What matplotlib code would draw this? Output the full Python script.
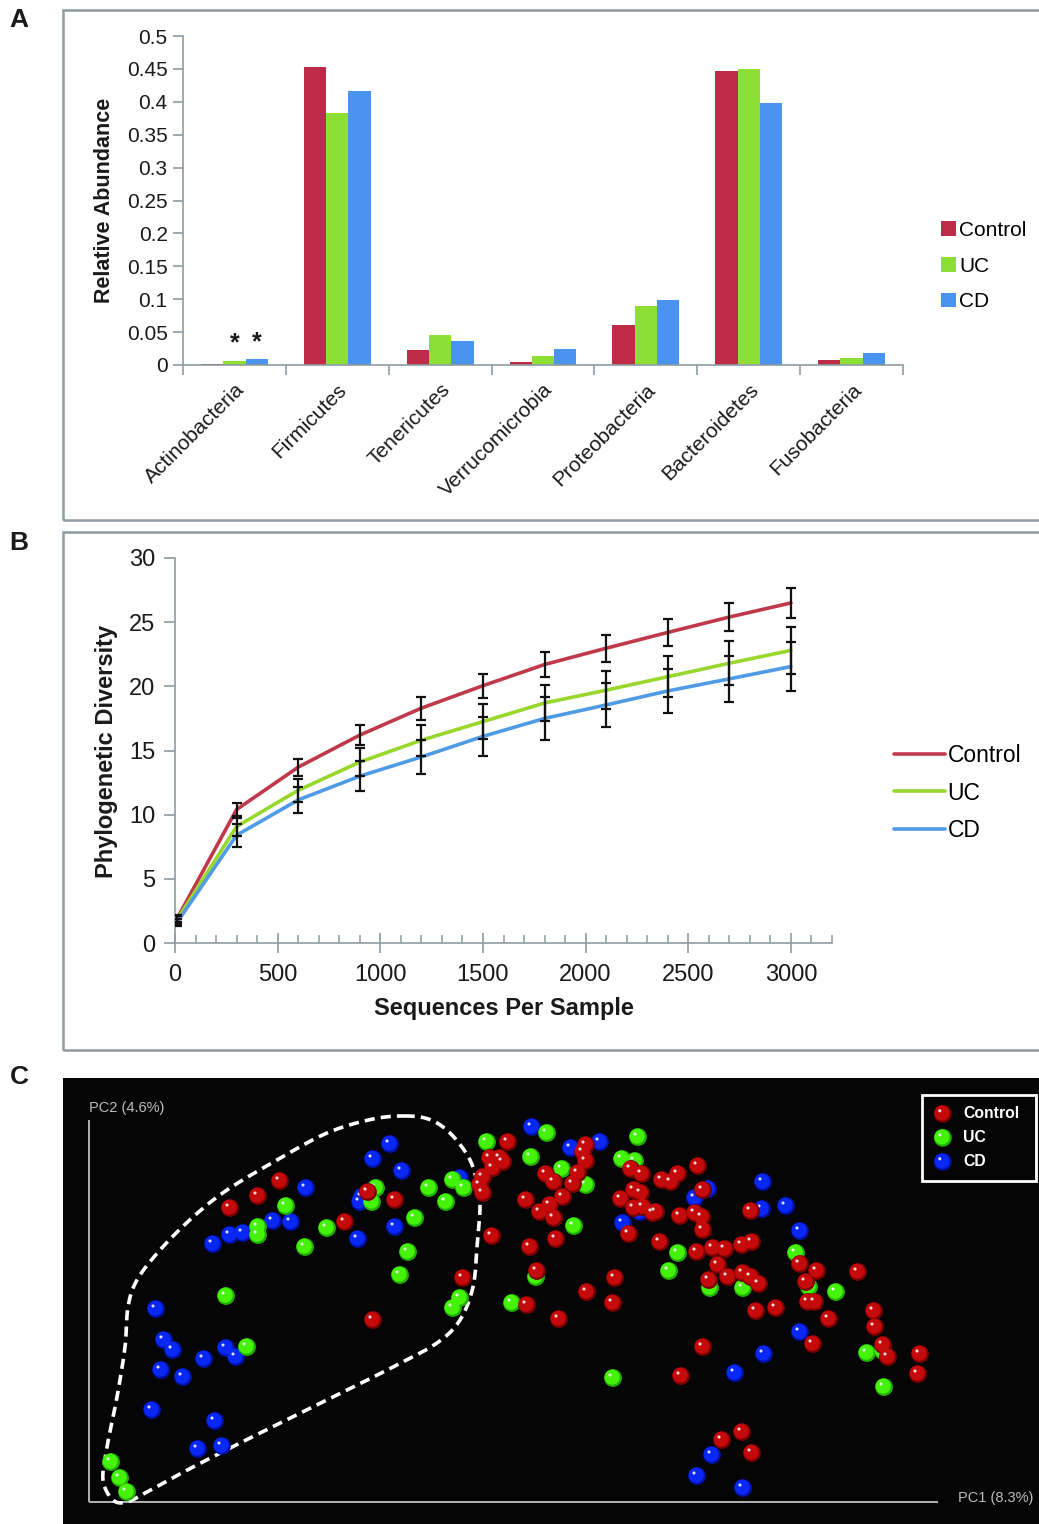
import numpy as np
import matplotlib
matplotlib.use('Agg')
import matplotlib.pyplot as plt
from matplotlib.patches import Rectangle
from matplotlib.ticker import FixedLocator, MultipleLocator, FuncFormatter, NullFormatter

plt.rcParams['font.family'] = ['Liberation Sans', 'DejaVu Sans']

W, H = 1039, 1524

# ---------------- Panel A data ----------------
phyla = ['Actinobacteria', 'Firmicutes', 'Tenericutes', 'Verrucomicrobia',
         'Proteobacteria', 'Bacteroidetes', 'Fusobacteria']
groups = ['Control', 'UC', 'CD']
abund_control = [0.002, 0.453, 0.023, 0.005, 0.061, 0.447, 0.008]
abund_uc = [0.006, 0.383, 0.045, 0.014, 0.089, 0.450, 0.011]
abund_cd = [0.009, 0.417, 0.036, 0.024, 0.099, 0.398, 0.018]
star_marks = [('Actinobacteria', 'UC'), ('Actinobacteria', 'CD')]
a_yticks = [0, 0.05, 0.1, 0.15, 0.2, 0.25, 0.3, 0.35, 0.4, 0.45, 0.5]

# ---------------- Panel B data ----------------
seq_depth = [10, 300, 600, 900, 1200, 1500, 1800, 2100, 2400, 2700, 3000]
pd_control = [1.9, 10.4, 13.7, 16.2, 18.3, 20.05, 21.7, 22.97, 24.2, 25.4, 26.5]
pd_control_err = [0.3, 0.5, 0.65, 0.8, 0.9, 0.95, 0.95, 1.04, 1.04, 1.1, 1.15]
pd_uc = [1.8, 9.07, 11.9, 14.1, 15.8, 17.25, 18.7, 19.7, 20.75, 21.8, 22.8]
pd_uc_err = [0.3, 0.7, 0.9, 1.1, 1.22, 1.38, 1.4, 1.5, 1.6, 1.7, 1.8]
pd_cd = [1.6, 8.4, 11.15, 13.0, 14.5, 16.1, 17.5, 18.55, 19.64, 20.58, 21.54]
pd_cd_err = [0.3, 0.9, 1.04, 1.17, 1.3, 1.5, 1.69, 1.7, 1.74, 1.77, 1.9]
b_xticks = [0, 500, 1000, 1500, 2000, 2500, 3000]
b_yticks = [0, 5, 10, 15, 20, 25, 30]

# ---------------- Panel C data (PCoA scores, plot units) ----------------
ctrl_pc1 = [191, 169, 141, 279, 306, 256, 374, 284,
            419, 401, 411, 414, 404, 394, 391, 394, 497, 494, 497, 489, 457, 465, 484, 474,
            437, 461, 451, 465, 403, 441, 467, 542, 553, 532, 545, 552, 545, 554, 567, 564,
            540, 573, 589, 582, 609, 591, 606, 613, 614, 571, 608, 624, 636, 629, 639, 620,
            448, 526, 498, 438, 524, 470, 614, 592,
            614, 662, 653, 663, 654, 662, 670, 667, 687, 711, 728, 717, 719, 726, 769, 740,
            724, 785, 786, 794, 799, 831, 829, 653, 633, 663]
ctrl_pc2 = [321, 306, 294, 310, 302, 280, 224, 182,
            360, 344, 344, 340, 334, 325, 317, 309, 357, 350, 341, 329, 328, 320, 318, 305,
            302, 297, 290, 284, 266, 255, 263, 333, 328, 303, 312, 309, 294, 295, 290, 289,
            268, 322, 328, 320, 336, 286, 289, 285, 272, 260, 250, 254, 253, 237, 225, 222,
            231, 224, 210, 197, 199, 183, 155, 126,
            312, 291, 257, 260, 229, 225, 218, 191, 194, 238, 231, 220, 200, 200, 230, 183,
            158, 191, 175, 157, 145, 148, 128, 70, 62, 49]
uc_pc1 = [197, 287, 283, 340, 364, 375, 357, 326, 238, 169, 169, 216, 319, 311, 137, 158,
          371, 364, 22, 31, 38,
          398, 458, 442, 473, 497, 549, 533, 546, 485, 589, 580, 447, 423, 621, 524,
          654, 707, 720, 747, 778, 794, 795]
uc_pc2 = [296, 314, 300, 314, 322, 314, 300, 284, 274, 275, 267, 255, 250, 227, 206, 155,
          204, 194, 40, 24, 10,
          360, 369, 345, 333, 317, 365, 343, 341, 276, 249, 231, 225, 199, 214, 124,
          214, 249, 215, 210, 149, 151, 115]
cd_pc1 = [301, 284, 313, 217, 371, 273, 271, 184, 202, 141, 154, 124, 269, 306, 67, 75,
          84, 72, 94, 115, 137, 147, 63, 126, 109, 133,
          443, 482, 511, 606, 619, 534, 551, 646,
          674, 673, 697, 711, 711, 675, 623, 608, 654]
cd_pc2 = [358, 343, 331, 314, 324, 305, 300, 281, 280, 267, 269, 258, 263, 275, 193, 162,
          152, 132, 125, 143, 154, 145, 92, 81, 53, 56,
          375, 354, 360, 304, 313, 279, 290, 129,
          320, 293, 296, 271, 170, 148, 47, 26, 14]
# outline of the dashed cluster region (same plot units)
hull_pc1 = [318, 284, 238, 188, 138, 104, 71, 48, 39, 36, 28, 18, 14, 24, 38, 58, 104, 171,
            238, 304, 348, 371, 384, 388, 391, 388, 380, 362, 342]
hull_pc2 = [386, 383, 369, 342, 312, 285, 252, 222, 195, 155, 105, 55, 22, 2, 0, 10, 35, 69,
            102, 135, 159, 182, 215, 255, 295, 320, 344, 368, 382]

# ---------------- styles ----------------
bar_colors = {'Control': '#be2b46', 'UC': '#8ddf33', 'CD': '#4a93ee'}
line_colors = {'Control': '#c0394b', 'UC': '#98d82c', 'CD': '#4f9be6'}
grey = '#8d9ba3'
txt = '#1a1a1a'


def fx(px):
    return px / W


def fy(py):
    return 1 - py / H


def rect(l, t, r, b):
    return [fx(l), fy(b), (r - l) / W, (b - t) / H]


fig = plt.figure(figsize=(W / 100, H / 100), dpi=100)

# frames
for (t, b) in [(10, 520), (532, 1050)]:
    fig.add_artist(Rectangle((fx(63), fy(b)), (1100 - 63) / W, (b - t) / H,
                             transform=fig.transFigure, fill=False,
                             edgecolor=grey, lw=1.8))

for lab, (x, y) in zip(['A', 'B', 'C'], [(19, 20), (19, 543), (19, 1077)]):
    fig.text(fx(x), fy(y), lab, fontsize=19, fontweight='bold', ha='center',
             va='center', color=txt)

# ================= Panel A =================
axA = fig.add_axes(rect(183, 36, 903, 365))
x = np.arange(len(phyla))
bw = 0.217
series = [abund_control, abund_uc, abund_cd]
for i, (g, vals) in enumerate(zip(groups, series)):
    axA.bar(x + (i - 1) * bw, vals, width=bw, color=bar_colors[g], label=g,
            edgecolor='none')
for ph, g in star_marks:
    i = groups.index(g)
    k = phyla.index(ph)
    axA.text(k + (i - 1) * bw, series[i][k] + 0.008, '*', ha='center', va='bottom',
             fontsize=18, fontweight='bold', color=txt)
axA.set_xlim(-0.5, len(phyla) - 0.5)
axA.set_ylim(0, 0.5)
axA.set_yticks(a_yticks)
axA.yaxis.set_major_formatter(FuncFormatter(lambda v, p: ('%g' % round(v, 2))))
axA.xaxis.set_major_locator(FixedLocator(np.arange(-0.5, len(phyla), 1.0)))
axA.xaxis.set_major_formatter(NullFormatter())
axA.xaxis.set_minor_locator(FixedLocator(x))
axA.set_xticklabels(phyla, minor=True, rotation=45, ha='right', va='top',
                    rotation_mode='anchor', fontsize=15, color=txt)
axA.tick_params(axis='x', which='minor', length=0, pad=11)
axA.tick_params(axis='x', which='major', length=7, color=grey, width=1.2)
axA.tick_params(axis='y', length=7, color=grey, width=1.2, labelsize=15,
                labelcolor=txt, pad=4)
for s in ['top', 'right']:
    axA.spines[s].set_visible(False)
for s in ['left', 'bottom']:
    axA.spines[s].set_color(grey)
    axA.spines[s].set_linewidth(1.2)
fig.text(fx(105), fy(200), 'Relative Abundance', rotation=90, fontsize=15.5,
         fontweight='bold', ha='center', va='center', color=txt)
axA.legend(loc='center left', bbox_to_anchor=(fx(931), fy(266)),
           bbox_transform=fig.transFigure, frameon=False, fontsize=15,
           handlelength=0.7, handleheight=0.7, handletextpad=0.15,
           labelspacing=0.8, borderpad=0)

# ================= Panel B =================
axB = fig.add_axes(rect(175, 558, 832, 943))
for g, vals, errs in [('Control', pd_control, pd_control_err),
                      ('UC', pd_uc, pd_uc_err), ('CD', pd_cd, pd_cd_err)]:
    axB.plot(seq_depth, vals, color=line_colors[g], lw=2.6, label=g,
             solid_capstyle='round', zorder=2)
for g, vals, errs in [('Control', pd_control, pd_control_err),
                      ('UC', pd_uc, pd_uc_err), ('CD', pd_cd, pd_cd_err)]:
    axB.errorbar(seq_depth, vals, yerr=errs, fmt='none', ecolor='#111111',
                 elinewidth=1.6, capsize=3.8, capthick=1.6, zorder=3)
axB.set_xlim(0, 3200)
axB.set_ylim(0, 30)
axB.set_xticks(b_xticks)
axB.set_yticks(b_yticks)
axB.xaxis.set_minor_locator(MultipleLocator(100))
axB.tick_params(axis='x', which='major', direction='inout', length=14,
                color=grey, width=1.2, labelsize=17, labelcolor=txt, pad=8)
axB.tick_params(axis='x', which='minor', direction='in', length=6,
                color=grey, width=1.1)
axB.tick_params(axis='y', direction='out', length=8, color=grey, width=1.2,
                labelsize=17, labelcolor=txt, pad=6)
for s in ['top', 'right']:
    axB.spines[s].set_visible(False)
for s in ['left', 'bottom']:
    axB.spines[s].set_color(grey)
    axB.spines[s].set_linewidth(1.2)
fig.text(fx(107), fy(751), 'Phylogenetic Diversity', rotation=90, fontsize=17,
         fontweight='bold', ha='center', va='center', color=txt)
fig.text(fx(504), fy(1008), 'Sequences Per Sample', fontsize=17,
         fontweight='bold', ha='center', va='center', color=txt)
axB.legend(loc='center left', bbox_to_anchor=(fx(883), fy(793)),
           bbox_transform=fig.transFigure, frameon=False, fontsize=16.5,
           handlelength=2.2, handletextpad=0.12, labelspacing=0.65, borderpad=0)

# ================= Panel C =================
axC = fig.add_axes(rect(63, 1078, 1039, 1524))
axC.set_facecolor('#050505')
axC.set_xlim(63 - 89, 1039 - 89)
axC.set_ylim(1502 - 1524, 1502 - 1078)
axC.set_xticks([])
axC.set_yticks([])
for s in axC.spines.values():
    s.set_visible(False)
axC.plot([0, 0], [0, 382], color='#b4b4b4', lw=1.4, solid_capstyle='butt')
axC.plot([0, 849], [0, 0], color='#b4b4b4', lw=1.4, solid_capstyle='butt')
axC.text(0, 394, 'PC2 (4.6%)', color='#bdbdbd', fontsize=10.5, ha='left', va='center')
axC.text(869, 4, 'PC1 (8.3%)', color='#bdbdbd', fontsize=10.5, ha='left', va='center')

# dashed outline (closed Catmull-Rom spline through outline points)
P = np.column_stack([hull_pc1, hull_pc2]).astype(float)
n = len(P)
curve = []
for i in range(n):
    p0, p1, p2, p3 = P[(i - 1) % n], P[i], P[(i + 1) % n], P[(i + 2) % n]
    for t in np.linspace(0, 1, 12, endpoint=False):
        t2, t3 = t * t, t * t * t
        curve.append(0.5 * ((2 * p1) + (-p0 + p2) * t + (2 * p0 - 5 * p1 + 4 * p2 - p3) * t2
                            + (-p0 + 3 * p1 - 3 * p2 + p3) * t3))
curve.append(curve[0])
curve = np.array(curve)
axC.plot(curve[:, 0], curve[:, 1], color='white', lw=2.6, ls=(0, (2.8, 1.7)), zorder=2)

sphere = {'Control': ('#7a0000', '#c40a0a'),
          'UC': ('#22b000', '#44f20a'),
          'CD': ('#0010a8', '#0a28f5')}


def draw_spheres(xs, ys, g, z):
    xs = np.asarray(xs, float)
    ys = np.asarray(ys, float)
    dark, main = sphere[g]
    axC.scatter(xs, ys, s=165, color=dark, edgecolors='none', zorder=z)
    axC.scatter(xs - 0.8, ys + 0.8, s=118, color=main, edgecolors='none', zorder=z)
    axC.scatter(xs - 3.0, ys + 3.0, s=5, color='#ffffff', alpha=0.85,
                edgecolors='none', zorder=z)


draw_spheres(cd_pc1, cd_pc2, 'CD', 3)
draw_spheres(uc_pc1, uc_pc2, 'UC', 4)
draw_spheres(ctrl_pc1, ctrl_pc2, 'Control', 5)

# legend box in panel C
lx0, ly0, lx1, ly1 = 922 - 89, 1502 - 1181, 1036 - 89, 1502 - 1095
axC.add_patch(Rectangle((lx0, ly0), lx1 - lx0, ly1 - ly0, fill=False,
                        edgecolor='white', lw=2, zorder=6))
for j, g in enumerate(groups):
    yy = 1502 - (1113 + 24 * j)
    draw_spheres([942 - 89 + 0.8], [yy - 0.8], g, 7)
    axC.text(963 - 89, yy, g, color='white', fontsize=11.3, fontweight='bold',
             ha='left', va='center', zorder=7)

fig.savefig('out.png', dpi=100, facecolor='white')
